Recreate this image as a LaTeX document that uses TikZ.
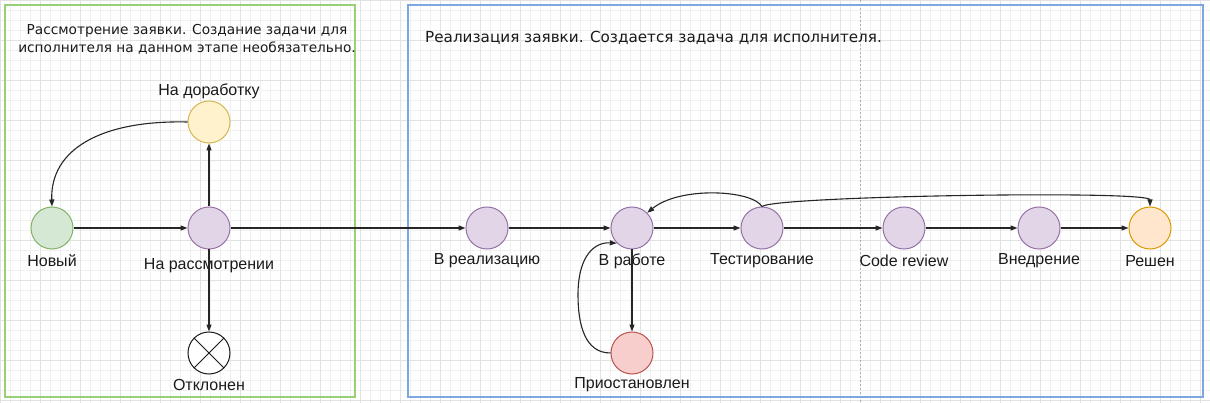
\documentclass[tikz,border=0pt]{standalone}
\usepackage{fontspec}
\setmainfont{Liberation Sans}
\newfontfamily\titlefont{DejaVu Sans}
\usetikzlibrary{arrows.meta}
\definecolor{gminor}{HTML}{F0F0F0}
\definecolor{gmajor}{HTML}{E2E2E2}
\definecolor{grnfill}{HTML}{D5E8D4}
\definecolor{grnline}{HTML}{82B366}
\definecolor{purfill}{HTML}{E1D5E7}
\definecolor{purline}{HTML}{9673A6}
\definecolor{yelfill}{HTML}{FFF2CC}
\definecolor{yelline}{HTML}{D6B656}
\definecolor{redfill}{HTML}{F8CECC}
\definecolor{redline}{HTML}{B85450}
\definecolor{orafill}{HTML}{FFE6CC}
\definecolor{oraline}{HTML}{D79B00}
\definecolor{boxgreen}{HTML}{97D077}
\definecolor{boxblue}{HTML}{7EA6E0}
\definecolor{txt}{HTML}{1A1A1A}
\begin{document}
\begin{tikzpicture}[x=1pt,y=-1pt,
  stnode/.style={circle, draw, line width=1pt, minimum size=42pt, inner sep=0pt},
  purple/.style={stnode, fill=purfill, draw=purline},
  lbl/.style={font=\fontsize{16}{18}\selectfont, text=txt, inner sep=0pt},
  ttl/.style={font=\titlefont\fontsize{13.7}{18}\selectfont, text=txt, inner sep=0pt},
  conn/.style={draw=black!85, line width=1.1pt, -{Triangle[length=7pt,width=5pt]}},
  plain/.style={draw=black!85, line width=1.1pt}
]
\useasboundingbox (0,0) rectangle (1210,403);
\fill[white] (0,0) rectangle (1210,403);
\foreach \x in {0,10,...,1210} \draw[gminor, line width=0.6pt] (\x,0) -- (\x,403);
\foreach \y in {0,10,...,400} \draw[gminor, line width=0.6pt] (0,\y) -- (1210,\y);
\foreach \x in {0,40,...,1210} \draw[gmajor, line width=0.6pt] (\x,0) -- (\x,403);
\foreach \y in {0,40,...,400} \draw[gmajor, line width=0.6pt] (0,\y) -- (1210,\y);
\draw[black!30, dashed, dash pattern=on 2pt off 2pt, line width=0.8pt] (860,0) -- (860,403);

% containers
\draw[boxgreen, line width=1.5pt] (5,5) rectangle (355,397);
\draw[boxblue, line width=1.8pt] (408,5) rectangle (1203,397);
\node[ttl, align=center] (t1) at (187,39) {Рассмотрение заявки. Создание задачи для\\исполнителя на данном этапе необязательно.};
\node[ttl, anchor=west, font=\titlefont\fontsize{15.2}{18}\selectfont] (t2) at (425,38) {Реализация заявки. Создается задача для исполнителя.};

% nodes
\node[stnode, fill=grnfill, draw=grnline] (nv) at (52,228) {};
\node[purple] (nr) at (209,228) {};
\node[stnode, fill=yelfill, draw=yelline] (nd) at (209,122) {};
\node[stnode, fill=white, draw=black!90] (ot) at (209,353) {};
\draw[black!90, line width=1pt] (ot.45) -- (ot.225) (ot.135) -- (ot.-45);
\node[purple] (vre) at (487,228) {};
\node[purple] (vr) at (632,228) {};
\node[stnode, fill=redfill, draw=redline] (pr) at (632,353) {};
\node[purple] (ts) at (762,228) {};
\node[purple] (cr) at (904,228) {};
\node[purple] (vn) at (1039,228) {};
\node[stnode, fill=orafill, draw=oraline] (rs) at (1150,228) {};

% labels
\node[lbl] (lnd) at (209,91) {На доработку};
\node[lbl] (lnv) at (52,261) {Новый};
\node[lbl] (lnr) at (209,266) {На рассмотрении};
\node[lbl] (lot) at (209,385) {Отклонен};
\node[lbl] (lvre) at (487,261) {В реализацию};
\node[lbl] (lvr) at (632,261) {В работе};
\node[lbl] (lts) at (762,261) {Тестирование};
\node[lbl] (lcr) at (904,261) {Code review};
\node[lbl] (lvn) at (1039,261) {Внедрение};
\node[lbl] (lrs) at (1150,261) {Решен};
\node[lbl] (lpr) at (632,385) {Приостановлен};

% connectors
\draw[conn] (nv) -- (nr);
\draw[conn] (nr) -- (nd);
\draw[conn] (nr) -- (ot);
\draw[conn] (nd.west) .. controls (100,120) and (50,150) .. (nv.north);
\draw[conn] (nr) -- (vre);
\draw[conn] (vre) -- (vr);
\draw[conn] (vr) -- (ts);
\draw[conn] (vr) -- (pr);
\draw[conn] (ts) -- (cr);
\draw[conn] (cr) -- (vn);
\draw[conn] (vn) -- (rs);
\draw[conn] (pr.west) .. controls (585,353) and (578,325) .. (578,295) .. controls (578,255) and (595,242) .. (vr.225);
\draw[conn] (ts.north) .. controls (752,190) and (680,186) .. (vr.45);
\draw[conn] (ts.north) .. controls (775,196) and (1150,190) .. (rs.north);
\end{tikzpicture}
\end{document}
